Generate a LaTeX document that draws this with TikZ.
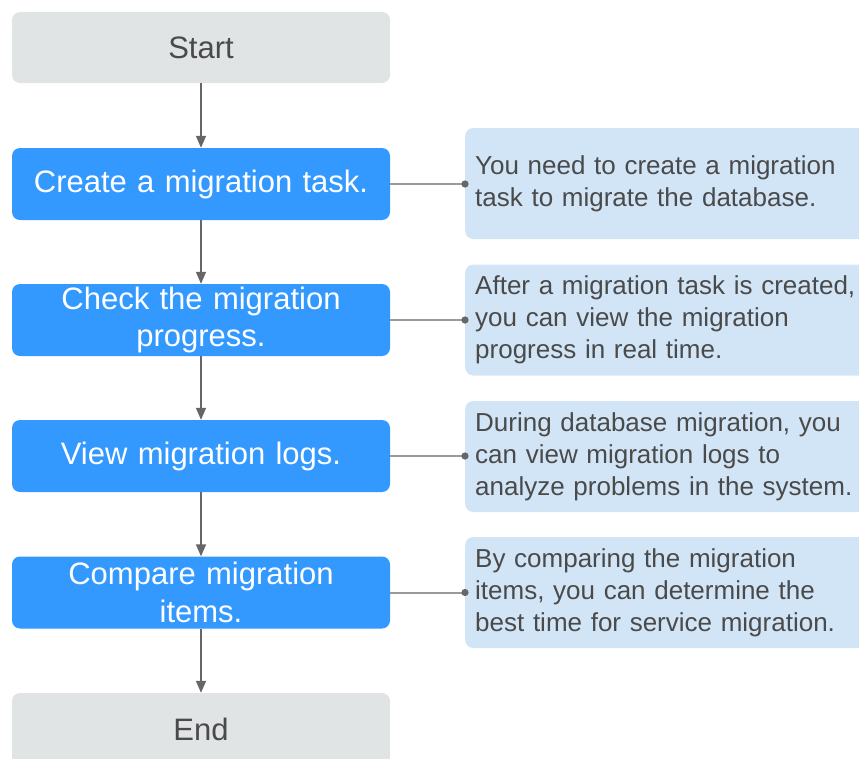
\documentclass[tikz,border=0pt]{standalone}
\usepackage{fontspec}
\setmainfont{Liberation Sans}
\usetikzlibrary{arrows.meta}
\definecolor{stepblue}{HTML}{3399FF}
\definecolor{termgray}{HTML}{E1E4E5}
\definecolor{noteblue}{HTML}{D2E5F7}
\definecolor{txtgray}{HTML}{4A4A4A}
\definecolor{arrgray}{HTML}{666666}
\definecolor{lingray}{HTML}{999999}
\begin{document}
\begin{tikzpicture}[x=1pt,y=-1pt,
  termbox/.style={fill=termgray, rounded corners=8pt, minimum width=378pt, minimum height=71pt,
    inner sep=0pt, font=\fontsize{31}{37}\selectfont, text=txtgray},
  stepbox/.style={fill=stepblue, rounded corners=8pt, minimum width=378pt, minimum height=72pt,
    inner sep=0pt, text width=374pt, align=center, font=\fontsize{31}{37.5}\selectfont, text=white},
  notebox/.style={fill=noteblue, rounded corners=8pt, minimum height=111pt, text width=400pt,
    inner xsep=10pt, inner ysep=0pt, align=left, anchor=west,
    font=\fontsize{26}{32}\selectfont, text=txtgray},
  flow/.style={draw=arrgray, line width=1.6pt, -{Triangle[width=10pt,length=12pt]}},
  conn/.style={draw=lingray, line width=2pt},
  dotc/.style={fill=arrgray}
]
\useasboundingbox (0,0) rectangle (859,758);
\node[termbox] (start) at (201,47.5) {Start};
\node[stepbox] (s1) at (201,184) {Create a migration task.};
\node[stepbox] (s2) at (201,320) {Check the migration\\progress.};
\node[stepbox] (s3) at (201,456) {View migration logs.};
\node[stepbox] (s4) at (201,592.5) {Compare migration\\items.};
\node[termbox, minimum height=72pt] (end) at (201,729) {End};

\node[notebox] (n1) at (465,183.5) {You need to create a migration\\task to migrate the database.};
\node[notebox] (n2) at (465,320) {After a migration task is created,\\you can view the migration\\progress in real time.};
\node[notebox] (n3) at (465,456.5) {During database migration, you\\can view migration logs to\\analyze problems in the system.};
\node[notebox] (n4) at (465,592.5) {By comparing the migration\\items, you can determine the\\best time for service migration.};

\draw[flow] (start) -- (s1);
\draw[flow] (s1) -- (s2);
\draw[flow] (s2) -- (s3);
\draw[flow] (s3) -- (s4);
\draw[flow] (s4) -- (end);

\foreach \a/\b in {s1/n1,s2/n2,s3/n3,s4/n4}{
  \draw[conn] (\a.east) -- (\a.east -| \b.west);
  \fill[dotc] (\a.east -| \b.west) circle (3.6pt);
}
\end{tikzpicture}
\end{document}
